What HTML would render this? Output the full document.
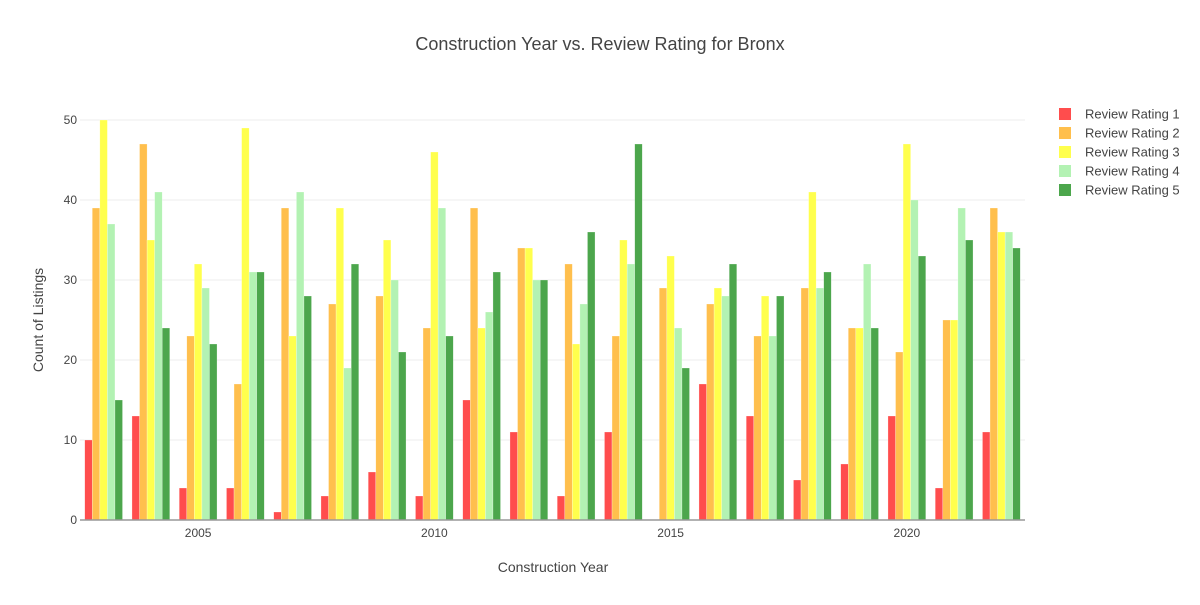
<!DOCTYPE html>
<html><head><meta charset="utf-8"><style>
body{margin:0;background:#fff;font-family:"Liberation Sans",sans-serif;}
</style></head><body>
<svg id="chart" width="1200" height="600" xmlns="http://www.w3.org/2000/svg" style="font-family:'Liberation Sans',sans-serif">
<g id="grid"></g>
<g id="bars"></g>
<g id="axes"></g>
<text x="600" y="50" text-anchor="middle" font-size="18" fill="#444">Construction Year vs. Review Rating for Bronx</text>
<text x="553" y="572" text-anchor="middle" font-size="14" fill="#444">Construction Year</text>
<text x="43" y="320" text-anchor="middle" font-size="14" fill="#444" transform="rotate(-90 43 320)">Count of Listings</text>
<g id="legend"></g>
</svg>
<script>
const years=[2003,2004,2005,2006,2007,2008,2009,2010,2011,2012,2013,2014,2015,2016,2017,2018,2019,2020,2021,2022];
const seriesNames=["Review Rating 1","Review Rating 2","Review Rating 3","Review Rating 4","Review Rating 5"];
const r1=[10,13,4,4,1,3,6,3,15,11,3,11,0,17,13,5,7,13,4,11];
const r2=[39,47,23,17,39,27,28,24,39,34,32,23,29,27,23,29,24,21,25,39];
const r3=[50,35,32,49,23,39,35,46,24,34,22,35,33,29,28,41,24,47,25,36];
const r4=[37,41,29,31,41,19,30,39,26,30,27,32,24,28,23,29,32,40,39,36];
const r5=[15,24,22,31,28,32,21,23,31,30,36,47,19,32,28,31,24,33,35,34];
const yTicks=[0,10,20,30,40,50];
const xTicks=[2005,2010,2015,2020];
const series=[r1,r2,r3,r4,r5];
const colors=["#ff4d4d","#ffbf4d","#ffff4d","#b3f2b3","#4ca64c"];
const NS="http://www.w3.org/2000/svg";
const X0=80,X1=1025,Y0=520,Y1=120;
const yMin=years[0]-0.5,yMax=years[years.length-1]+0.5;
function xs(v){return X0+(v-yMin)/(yMax-yMin)*(X1-X0);}
function ys(v){return Y0-(v/50)*(Y0-Y1);}
function mk(t,a,p){const e=document.createElementNS(NS,t);for(const k in a)e.setAttribute(k,a[k]);p.appendChild(e);return e;}
const grid=document.getElementById('grid'),bars=document.getElementById('bars'),axes=document.getElementById('axes'),legend=document.getElementById('legend');
yTicks.forEach(t=>{
 if(t>0){const l=mk('line',{x1:X0,x2:X1,y1:ys(t),y2:ys(t),stroke:'#eee','stroke-width':1},grid);
 
 }
 const tx=mk('text',{x:X0-3,y:ys(t)+4,'text-anchor':'end','font-size':12,fill:'#444'},axes);tx.textContent=t;
 
 
});
xTicks.forEach(t=>{
 const tx=mk('text',{x:xs(t),y:Y0+17,'text-anchor':'middle','font-size':12,fill:'#444'},axes);tx.textContent=t;
 
 
});
const al=mk('line',{x1:X0,x2:X1,y1:Y0,y2:Y0,stroke:'#999','stroke-width':1.5},axes);


const step=(X1-X0)/(yMax-yMin),gw=step*0.8,bw=gw/5;
years.forEach((yr,i)=>{
 series.forEach((s,j)=>{
  const x=xs(yr)-gw/2+j*bw;
  const r=mk('rect',{x:x,y:ys(s[i]),width:bw,height:ys(0)-ys(s[i]),fill:colors[j],stroke:'rgba(255,255,255,0.5)','stroke-width':0.5},bars);
  
  
 });
});
seriesNames.forEach((n,j)=>{
 const y=114+j*19;
 const g=mk('g',{},legend);
 
 
 mk('rect',{x:1059,y:y-6,width:12,height:12,fill:colors[j]},g);
 const t=mk('text',{x:1085,y:y+4.5,'font-size':13,fill:'#444'},g);t.textContent=n;
});
</script>
</body></html>
